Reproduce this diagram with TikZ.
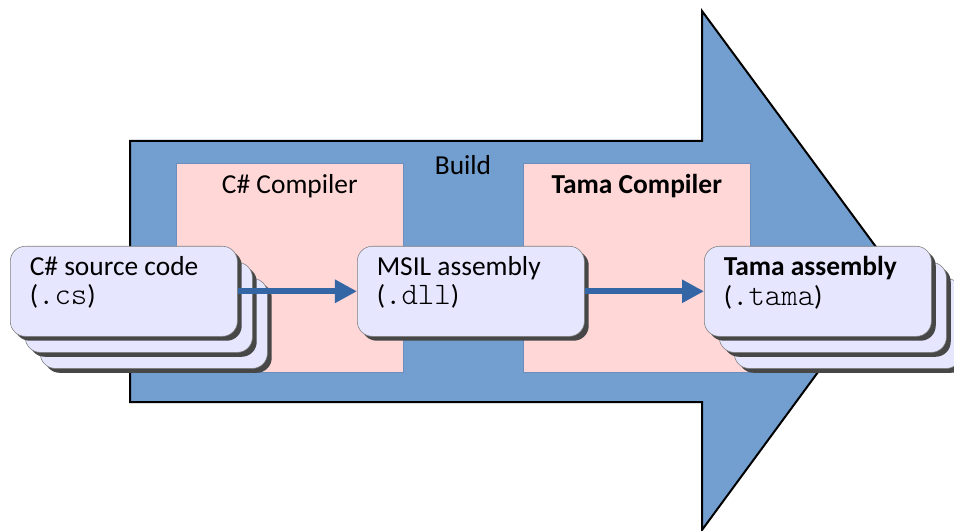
\documentclass[tikz,border=0pt]{standalone}
\usepackage{fontspec}
\setmainfont{Carlito}
\setmonofont[Scale=1.14]{Latin Modern Mono Light}
\usepackage{tikz}
\usetikzlibrary{arrows.meta, calc, shadows, positioning}
\definecolor{buildblue}{HTML}{729FCF}
\definecolor{compink}{HTML}{FFD7D7}
\definecolor{pinkedge}{HTML}{6C8EBF}
\definecolor{docfill}{HTML}{E6E6FF}
\definecolor{flowblue}{HTML}{3465A4}
\tikzset{>={Triangle[length=0.55cm, width=0.55cm]}}
\newcommand{\doctext}[1]{\parbox[t][1.75cm][t]{4.7cm}{#1}}

\begin{document}
\begin{tikzpicture}[x=0.025cm, y=-0.025cm,
  font=\fontsize{19.5}{21}\selectfont,
  compiler/.style={draw=pinkedge, fill=compink, anchor=north west,
    minimum width=5.675cm, minimum height=5.225cm},
  doc/.style={draw=gray, fill=docfill, rounded corners=0.375cm, anchor=north west,
    minimum width=5.675cm, minimum height=2.25cm, inner xsep=0.475cm, inner ysep=0.25cm,
    drop shadow={shadow xshift=0.11cm, shadow yshift=-0.11cm, fill=black!72, opacity=1}},
  flow/.style={->, line width=0.15cm, flowblue}]

\useasboundingbox (0,0) rectangle (954,531);

% Build arrow
\draw[fill=buildblue, line width=0.05cm] (130,141) -- (702,141) -- (702,11) -- (893,270)
  -- (702,530) -- (702,402) -- (130,402) -- cycle;
\node[anchor=base] (build) at (463,175) {Build};

% Compilers
\node[compiler] (cscomp) at (176,163) {};
\node[compiler] (tamacomp) at (523,163) {};
\node[anchor=base] (cstitle) at ([yshift=-0.75cm]cscomp.north) {C\# Compiler};
\node[anchor=base] (tamatitle) at ([yshift=-0.75cm]tamacomp.north) {\textbf{Tama Compiler}};

% Stacked files behind
\foreach \d in {30,15} {
    \node[doc] (srcback\d) at ({10+\d},{246+1.07*\d}) {};
    \node[doc] (tamaback\d) at ({704+\d},{246+1.07*\d}) {};
}

% Files
\node[doc] (src) at (10,246) {\doctext{C\# source code\\(\texttt{.cs})}};
\node[doc] (msil) at (357,246) {\doctext{MSIL assembly\\(\texttt{.dll})}};
\node[doc] (tama) at (704,246) {\doctext{\textbf{Tama assembly}\\(\texttt{.tama})}};

% Flow
\draw[flow] (src) -- (msil);
\draw[flow] (msil) -- (tama);

\end{tikzpicture}
\end{document}
